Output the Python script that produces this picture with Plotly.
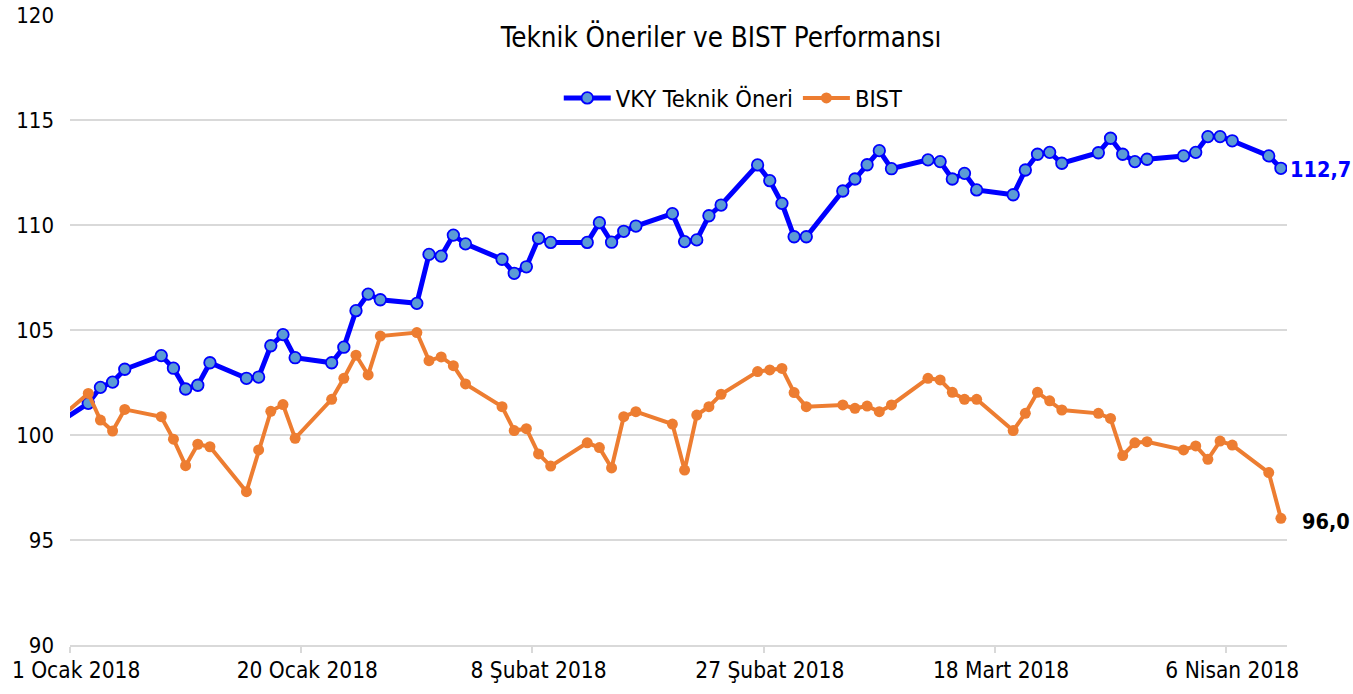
import pandas as pd
import plotly.graph_objects as go

# ---- data ----
dates = [
    "2017-12-29",
    "2018-01-02", "2018-01-03", "2018-01-04", "2018-01-05",
    "2018-01-08", "2018-01-09", "2018-01-10", "2018-01-11", "2018-01-12",
    "2018-01-15", "2018-01-16", "2018-01-17", "2018-01-18", "2018-01-19",
    "2018-01-22", "2018-01-23", "2018-01-24", "2018-01-25", "2018-01-26",
    "2018-01-29", "2018-01-30", "2018-01-31", "2018-02-01", "2018-02-02",
    "2018-02-05", "2018-02-06", "2018-02-07", "2018-02-08", "2018-02-09",
    "2018-02-12", "2018-02-13", "2018-02-14", "2018-02-15", "2018-02-16",
    "2018-02-19", "2018-02-20", "2018-02-21", "2018-02-22", "2018-02-23",
    "2018-02-26", "2018-02-27", "2018-02-28", "2018-03-01", "2018-03-02",
    "2018-03-05", "2018-03-06", "2018-03-07", "2018-03-08", "2018-03-09",
    "2018-03-12", "2018-03-13", "2018-03-14", "2018-03-15", "2018-03-16",
    "2018-03-19", "2018-03-20", "2018-03-21", "2018-03-22", "2018-03-23",
    "2018-03-26", "2018-03-27", "2018-03-28", "2018-03-29", "2018-03-30",
    "2018-04-02", "2018-04-03", "2018-04-04", "2018-04-05", "2018-04-06",
    "2018-04-09", "2018-04-10",
]

vky = [
    100.0,
    101.51, 102.27, 102.52, 103.13,
    103.78, 103.18, 102.19, 102.37, 103.44,
    102.70, 102.76, 104.25, 104.78, 103.68,
    103.44, 104.18, 105.92, 106.71, 106.44,
    106.27, 108.60, 108.52, 109.52, 109.10,
    108.37, 107.70, 108.01, 109.37, 109.17,
    109.17, 110.11, 109.18, 109.70, 109.95,
    110.54, 109.21, 109.29, 110.44, 110.95,
    112.86, 112.11, 111.03, 109.44, 109.44,
    111.62, 112.19, 112.87, 113.54, 112.68,
    113.10, 113.02, 112.19, 112.46, 111.67,
    111.44, 112.62, 113.37, 113.46, 112.94,
    113.44, 114.13, 113.37, 113.02, 113.13,
    113.29, 113.46, 114.21, 114.21, 114.01,
    113.29, 112.70,
]

bist = [
    100.0,
    101.98, 100.71, 100.19, 101.22,
    100.87, 99.80, 98.54, 99.56, 99.44,
    97.30, 99.29, 101.13, 101.45, 99.84,
    101.70, 102.70, 103.80, 102.86, 104.71,
    104.88, 103.54, 103.72, 103.30, 102.43,
    101.35, 100.21, 100.30, 99.10, 98.52,
    99.63, 99.40, 98.43, 100.87, 101.11,
    100.52, 98.33, 100.95, 101.35, 101.94,
    103.02, 103.10, 103.17, 102.02, 101.35,
    101.43, 101.27, 101.38, 101.11, 101.43,
    102.70, 102.62, 102.03, 101.70, 101.70,
    100.21, 101.03, 102.03, 101.63, 101.19,
    101.03, 100.79, 99.02, 99.63, 99.68,
    99.29, 99.48, 98.84, 99.71, 99.52,
    98.21, 96.03,
]

tick_dates = ["2018-01-01", "2018-01-20", "2018-02-08", "2018-02-27", "2018-03-18", "2018-04-06"]
tick_labels = ["1 Ocak 2018", "20 Ocak 2018", "8 Şubat 2018", "27 Şubat 2018", "18 Mart 2018", "6 Nisan 2018"]

y_ticks = [90, 95, 100, 105, 110, 115, 120]

title_text = "Teknik Öneriler ve BIST Performansı"
name_vky = "VKY Teknik Öneri"
name_bist = "BIST"

# ---- figure ----
FONT = "Tahoma, 'DejaVu Sans Condensed', 'DejaVu Sans', sans-serif"
half_day = pd.Timedelta(hours=12)
x = pd.to_datetime(dates) + half_day  # points centred in their day slot
tick_x = pd.to_datetime(tick_dates) + half_day

BLUE = "#0000FF"
ORANGE = "#ED7D31"
GRID = "#D9D9D9"

fig = go.Figure()
fig.add_trace(go.Scatter(
    x=x, y=vky, name=name_vky, mode="lines+markers",
    line=dict(color=BLUE, width=5),
    marker=dict(size=11.5, color="#5B9BD5", line=dict(color=BLUE, width=1.8)),
))
fig.add_trace(go.Scatter(
    x=x, y=bist, name=name_bist, mode="lines+markers",
    line=dict(color=ORANGE, width=4),
    marker=dict(size=11, color=ORANGE),
))

fig.add_annotation(
    x=x[-1], y=vky[-1], xref="x", yref="y",
    text=f"<b>{vky[-1]:.1f}</b>".replace(".", ","),
    showarrow=False, xanchor="left", yanchor="middle", xshift=7, yshift=-1,
    font=dict(family=FONT, size=21.5, color=BLUE),
)
fig.add_annotation(
    x=x[-1], y=bist[-1], xref="x", yref="y",
    text=f"<b>{bist[-1]:.1f}</b>".replace(".", ","),
    showarrow=False, xanchor="left", yanchor="middle", xshift=19, yshift=-3,
    font=dict(family=FONT, size=21.5, color="#000000"),
)

fig.update_layout(
    width=1353, height=694,
    margin=dict(l=70, r=66, t=15, b=49, autoexpand=False),
    paper_bgcolor="white", plot_bgcolor="white",
    font=dict(family=FONT, size=22.5, color="#000000"),
    title=dict(
        text=title_text, x=0.535, xref="paper", xanchor="center",
        y=1 - 37 / 694, yref="container", yanchor="middle",
        font=dict(family=FONT, size=27.5, color="#000000"),
    ),
    legend=dict(
        orientation="h", x=0.545, xanchor="center", y=0.868, yanchor="middle",
        bgcolor="rgba(0,0,0,0)", font=dict(family=FONT, size=23.5),
        itemwidth=47, tracegroupgap=0,
    ),
    showlegend=True,
)

fig.update_xaxes(
    type="date", automargin=False,
    range=[pd.Timestamp("2018-01-01"), pd.Timestamp("2018-04-11")],
    tickvals=tick_x, ticktext=tick_labels,
    ticks="", showgrid=False,
    showline=True, linecolor=GRID, linewidth=1.5,
    ticklabelstandoff=4,
    tickfont=dict(family=FONT, size=22.5, color="#000000"),
    minor=dict(ticks="outside", tickvals=pd.to_datetime(tick_dates), ticklen=6,
               tickcolor=GRID, tickwidth=1.5, showgrid=False),
    fixedrange=True,
)
fig.update_yaxes(
    range=[90, 120], tickvals=y_ticks, automargin=False,
    showgrid=True, gridcolor=GRID, gridwidth=1.5,
    zeroline=False, showline=False, ticks="",
    ticklabelstandoff=15,
    tickfont=dict(family=FONT, size=22, color="#000000"),
    fixedrange=True,
)

fig.write_html(
    "out.html",
    config={"displayModeBar": False},
    post_script="document.body.style.margin='0';document.body.style.overflow='hidden';",
)
